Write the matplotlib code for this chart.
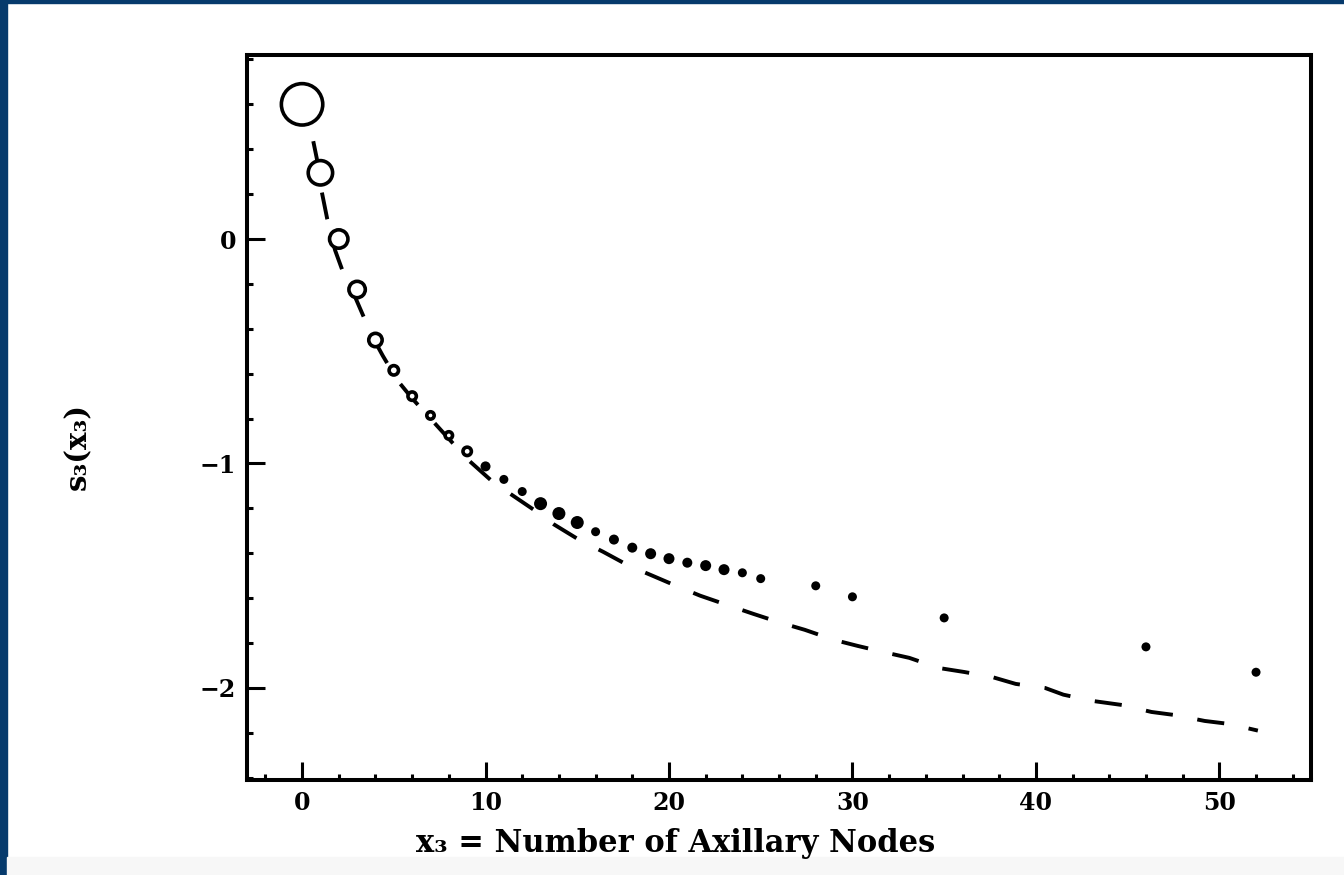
import numpy as np
import matplotlib.pyplot as plt
from matplotlib.patches import Rectangle

plt.rcParams['font.family'] = ['DejaVu Serif', 'DejaVu Sans']

# observed points: number of nodes and partial residual s3(x3)
nodes = [0, 1, 2, 3, 4, 5, 6, 7, 8, 9, 10, 11, 12, 13, 14, 15, 16, 17, 18,
         19, 20, 21, 22, 23, 24, 25, 28, 30, 35, 46, 52]
s3 = [0.60, 0.295, 0.0, -0.225, -0.45, -0.585, -0.70, -0.786, -0.875, -0.946,
      -1.013, -1.071, -1.125, -1.179, -1.223, -1.263, -1.304, -1.339, -1.375,
      -1.402, -1.424, -1.442, -1.455, -1.473, -1.487, -1.513, -1.545, -1.594,
      -1.688, -1.817, -1.93]
# relative weight of each point (drawn as circle diameter)
weight = [45, 28, 22, 20, 17, 13, 12, 11, 11, 12, 10, 9, 9, 13, 13, 13, 9,
          10, 10, 11, 11, 10, 11, 11, 9, 9, 9, 9, 9, 9, 9]

# smooth fitted curve (dashed)
fit_x = [0.0, 0.35, 0.55, 0.8, 1.05, 1.37, 1.8, 2.2, 2.9, 3.8, 4.4, 5.2, 6.0,
         7.0, 8.0, 9.0, 10.3, 11.4, 12.7, 13.7, 15.1, 16.4, 17.8, 19.1, 20.5,
         21.7, 23.3, 24.6, 26.1, 27.4, 29.0, 30.3, 31.9, 33.1, 34.7, 36.1,
         37.6, 38.9, 40.5, 41.5, 43.1, 44.7, 46.3, 47.6, 49.2, 50.5, 52.1]
fit_y = [0.66, 0.60, 0.46, 0.36, 0.22, 0.09, -0.05, -0.14, -0.26, -0.43,
         -0.52, -0.63, -0.71, -0.80, -0.89, -0.98, -1.075, -1.138, -1.21,
         -1.27, -1.34, -1.393, -1.455, -1.50, -1.549, -1.589, -1.634, -1.67,
         -1.71, -1.741, -1.786, -1.813, -1.844, -1.866, -1.911, -1.929, -1.951,
         -1.982, -2.0, -2.03, -2.058, -2.076, -2.107, -2.121, -2.147, -2.16,
         -2.19]

fig = plt.figure(figsize=(13.44, 8.75), dpi=100)
# page frame: blue edge on the left and top, pale strip at the bottom
fig.patches.append(Rectangle((0, 0), 7 / 1344, 1, transform=fig.transFigure,
                             color='#063a6c', zorder=-1))
fig.patches.append(Rectangle((0, 1 - 3 / 875), 1, 3 / 875,
                             transform=fig.transFigure, color='#063a6c',
                             zorder=-1))
fig.patches.append(Rectangle((7 / 1344, 0), 1, 18 / 875,
                             transform=fig.transFigure, color='#f7f7f7',
                             zorder=-1))

ax = fig.add_axes([0.1838, 0.1086, 0.7917, 0.8286])

# dash lengths are multiples of the line width
ax.plot(fit_x, fit_y, color='black', linewidth=2.8,
        linestyle=(0, (7.0, 6.4)), dash_capstyle='butt', zorder=1)

w = np.array(weight) * 0.72
nodes = np.array(nodes)
s3 = np.array(s3)
is_open = nodes < 10
ax.scatter(nodes[is_open], s3[is_open], s=(w[is_open] - 2.6) ** 2,
           facecolors='white', edgecolors='black', linewidths=2.6, zorder=3)
ax.scatter(nodes[~is_open], s3[~is_open], s=w[~is_open] ** 2,
           facecolors='black', edgecolors='none', zorder=3)

ax.set_xlim(-3, 55)
ax.set_ylim(-2.41, 0.82)
ax.set_xticks([0, 10, 20, 30, 40, 50])
ax.set_xticks(np.arange(-2, 55, 2), minor=True)
ax.set_yticks([-2, -1, 0])
ax.set_yticklabels(['\u22122', '\u22121', '0'])
ax.set_yticks(np.arange(-2.4, 0.81, 0.2), minor=True)

for sp in ax.spines.values():
    sp.set_linewidth(2.9)
ax.tick_params(which='both', direction='in', top=False, right=False,
               width=2.2, labelsize=17, pad=8)
ax.tick_params(which='major', length=13)
ax.tick_params(which='minor', length=4.5)
for lab in ax.get_xticklabels() + ax.get_yticklabels():
    lab.set_fontweight('bold')

ax.set_xlabel('x\u2083 = Number of Axillary Nodes', fontsize=22,
              fontweight='bold')
ax.xaxis.set_label_coords(0.403, -0.066)
ax.set_ylabel('s\u2083(x\u2083)', fontsize=21, fontweight='bold')
ax.yaxis.set_label_coords(-0.146, 0.46)

fig.savefig('out.png', dpi=100)
